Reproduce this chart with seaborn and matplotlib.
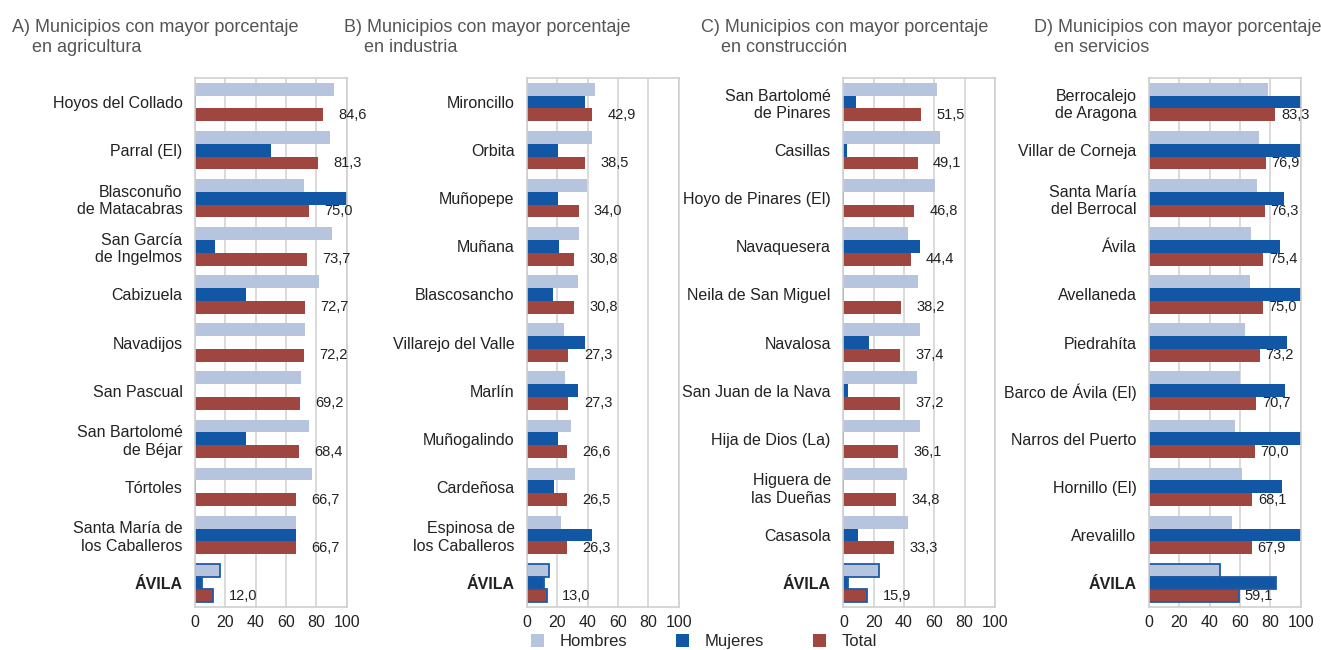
import numpy as np
import pandas as pd
import matplotlib
matplotlib.use("Agg")
import matplotlib.pyplot as plt
import seaborn as sns
from matplotlib.patches import Patch

# ---- datos (porcentaje de ocupados por sector) ----
agri_mun = ["Hoyos del Collado", "Parral (El)", "Blasconuño\nde Matacabras",
            "San García\nde Ingelmos", "Cabizuela", "Navadijos", "San Pascual",
            "San Bartolomé\nde Béjar", "Tórtoles", "Santa María de\nlos Caballeros",
            "ÁVILA"]
agri_h = [91.7, 88.8, 71.7, 90.1, 81.6, 72.4, 69.7, 75.2, 77.2, 66.7, 16.2]
agri_m = [0.6, 50.4, 100.0, 13.2, 33.8, 0.0, 0.0, 33.8, 0.6, 66.7, 4.4]
agri_t = [84.6, 81.3, 75.0, 73.7, 72.7, 72.2, 69.2, 68.4, 66.7, 66.7, 12.0]

ind_mun = ["Mironcillo", "Orbita", "Muñopepe", "Muñana", "Blascosancho",
           "Villarejo del Valle", "Marlín", "Muñogalindo", "Cardeñosa",
           "Espinosa de\nlos Caballeros", "ÁVILA"]
ind_h = [45.1, 42.9, 39.6, 34.5, 33.4, 24.2, 25.3, 29.2, 31.4, 22.6, 14.3]
ind_m = [38.5, 20.4, 20.4, 21.3, 16.9, 38.0, 33.4, 20.4, 17.6, 42.9, 11.4]
ind_t = [42.9, 38.5, 34.0, 30.8, 30.8, 27.3, 27.3, 26.6, 26.5, 26.3, 13.0]

cons_mun = ["San Bartolomé\nde Pinares", "Casillas", "Hoyo de Pinares (El)",
            "Navaquesera", "Neila de San Miguel", "Navalosa",
            "San Juan de la Nava", "Hija de Dios (La)", "Higuera de\nlas Dueñas",
            "Casasola", "ÁVILA"]
cons_h = [61.6, 63.7, 60.4, 42.4, 49.0, 50.5, 48.4, 50.5, 41.8, 42.4, 23.3]
cons_m = [8.4, 2.6, 0.6, 50.5, 0.6, 16.9, 3.3, 0.6, 0.6, 9.9, 2.9]
cons_t = [51.5, 49.1, 46.8, 44.4, 38.2, 37.4, 37.2, 36.1, 34.8, 33.3, 15.9]

serv_mun = ["Berrocalejo\nde Aragona", "Villar de Corneja",
            "Santa María\ndel Berrocal", "Ávila", "Avellaneda", "Piedrahíta",
            "Barco de Ávila (El)", "Narros del Puerto", "Hornillo (El)",
            "Arevalillo", "ÁVILA"]
serv_h = [78.4, 72.4, 71.3, 67.3, 66.4, 63.3, 60.0, 57.0, 61.1, 54.7, 47.1]
serv_m = [100.0, 100.0, 88.9, 86.7, 100.0, 90.9, 89.8, 100.0, 87.8, 100.0, 83.6]
serv_t = [83.3, 76.9, 76.3, 75.4, 75.0, 73.2, 70.7, 70.0, 68.1, 67.9, 59.1]

titles = ["A) Municipios con mayor porcentaje\n    en agricultura",
          "B) Municipios con mayor porcentaje\n    en industria",
          "C) Municipios con mayor porcentaje\n    en construcción",
          "D) Municipios con mayor porcentaje\n    en servicios"]

SEXOS = ["Hombres", "Mujeres", "Total"]
COLORES = ["#b7c4de", "#1257a5", "#a04641"]

sns.set_theme(style="white")
plt.rcParams["font.family"] = ["Liberation Sans", "DejaVu Sans"]

fig = plt.figure(figsize=(13.21, 6.50), dpi=100)

paneles = [
    (agri_mun, agri_h, agri_m, agri_t, 0.1476, 11),
    (ind_mun, ind_h, ind_m, ind_t, 0.3990, 11),
    (cons_mun, cons_h, cons_m, cons_t, 0.6384, 11),
    (serv_mun, serv_h, serv_m, serv_t, 0.8698, 4),
]
title_x = [12, 344, 701, 1034]

for i, (mun, h, m, t, left, pad) in enumerate(paneles):
    ax = fig.add_axes([left, 0.066, 0.1148, 0.814])
    df = pd.DataFrame({
        "municipio": mun * 3,
        "valor": h + m + t,
        "sexo": np.repeat(SEXOS, len(mun)),
    })
    sns.barplot(data=df, y="municipio", x="valor", hue="sexo", orient="h",
                palette=COLORES, hue_order=SEXOS, order=mun, width=0.8,
                linewidth=0, saturation=1, legend=False, ax=ax)

    # ÁVILA (provincia) con borde azul
    for c in ax.containers:
        p = c.patches[-1]
        p.set_edgecolor("#1f5aa6")
        p.set_linewidth(1.3)

    ax.bar_label(ax.containers[2],
                 labels=[f"{v:.1f}".replace(".", ",") for v in t],
                 padding=pad, fontsize=10.5, color="#222222")

    ax.set_xlim(0, 100)
    ax.set_xticks(range(0, 101, 20))
    ax.set_xlabel("")
    ax.set_ylabel("")
    ax.grid(axis="x", color="#d4d4d4", linewidth=1.2)
    ax.set_axisbelow(True)
    for s in ax.spines.values():
        s.set_color("#cfcfcf")
        s.set_linewidth(1.2)
    ax.tick_params(axis="y", length=0, pad=9, labelsize=11.5, labelcolor="#222222")
    ax.tick_params(axis="x", length=0, pad=6, labelsize=11.5, labelcolor="#222222")
    ax.get_yticklabels()[-1].set_fontweight("bold")

    fig.text(title_x[i] / 1321, 1 - 19 / 650, titles[i], fontsize=13,
             color="#555555", va="top", ha="left", linespacing=1.25)

# leyenda
handles = [Patch(facecolor=c, edgecolor="none") for c in COLORES]
fig.legend(handles, SEXOS, loc="lower center", bbox_to_anchor=(0.533, -0.022),
           ncol=3, frameon=False, fontsize=12, handlelength=0.8,
           handleheight=0.8, columnspacing=2.9, handletextpad=0.95)

fig.savefig("out.png", dpi=100)
